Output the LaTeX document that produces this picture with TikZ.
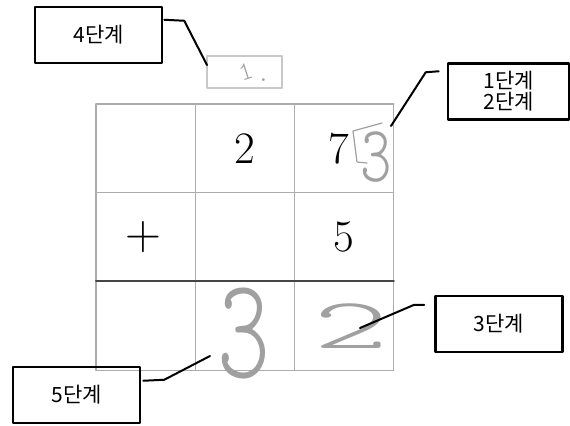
\documentclass[tikz,border=0pt]{standalone}
\usepackage{fontspec}
\newfontfamily\krfont{Noto Sans CJK KR}
\newfontfamily\handfont{lmmonolt10-regular}[Extension=.otf]
\usetikzlibrary{calc}
\definecolor{gridgray}{RGB}{172,172,172}
\definecolor{sumgray}{RGB}{70,70,70}
\definecolor{pencil}{RGB}{160,160,160}
\definecolor{carrygray}{RGB}{200,200,200}

\begin{document}
\begin{tikzpicture}[
    x=0.5pt, y=-0.5pt,
    line cap=round,
    line join=round,
    callout/.style={draw=black, line width=1.25pt, minimum width=63.5pt,
        minimum height=28pt, inner sep=0pt, align=center,
        font=\krfont\fontsize{10.5}{10.5}\selectfont},
    leader/.style={black, line width=1pt},
    gridline/.style={gridgray, line width=0.6pt},
    sumrule/.style={sumgray, line width=1pt},
    printed/.style={font=\fontsize{22.5}{27}\selectfont},
    hand/.style={pencil, inner sep=0pt},
    carrybox/.style={draw=carrygray, line width=0.6pt, minimum width=37.5pt,
        minimum height=16pt, inner sep=0pt, text=pencil,
        font=\handfont\fontsize{13}{13}\selectfont},
]

% ── Canvas (pixel coordinates, y downwards) ──────────────────────────────────
\useasboundingbox (0,0) rectangle (570,425);

% ── Adjustable parameters ───────────────────────────────────────────────────
\def\gx{96}     % left edge of the grid
\def\gy{104}    % top edge of the grid
\def\cw{99.3}   % column width
\def\rh{88.7}   % row height

% ── Grid ────────────────────────────────────────────────────────────────────
\foreach \i in {0,...,3}
    \draw[gridline] ({\gx+\i*\cw},\gy) -- ({\gx+\i*\cw},{\gy+3*\rh});
\foreach \j in {0,1,3}
    \draw[gridline] (\gx,{\gy+\j*\rh}) -- ({\gx+3*\cw},{\gy+\j*\rh});
% Sum line
\draw[sumrule] (\gx,{\gy+2*\rh}) -- ({\gx+3*\cw},{\gy+2*\rh});

% ── Printed problem ─────────────────────────────────────────────────────────
\node[printed] (tens)  at ({\gx+1.5*\cw},{\gy+0.5*\rh}) {2};
\node[printed] (ones)  at ({\gx+2.45*\cw},{\gy+0.5*\rh}) {7};
\node[printed, font=\fontsize{28}{30}\selectfont] (plus)
    at ({\gx+0.48*\cw},{\gy+1.5*\rh}) {$+$};
\node[printed] (addend) at ({\gx+2.5*\cw},{\gy+1.5*\rh}) {5};

% ── Carry box ───────────────────────────────────────────────────────────────
\node[carrybox] (carry) at (244.5,72)
    {\hspace{9pt}\rotatebox{18}{1}\hspace{1pt}.};

% ── Handwritten working ─────────────────────────────────────────────────────
% ones column, first try
\draw[pencil, line width=0.6pt] (382,123) -- (353,131) -- (357,162) -- (367,163);
\node[hand, font=\handfont\fontsize{40}{40}\selectfont] (onesum) at (376,157)
    {\scalebox{0.75}[1]{3}};
% answer digits
\node[hand, font=\handfont\fontsize{36}{36}\selectfont] (ansones) at (351,326)
    {\scalebox{2.0}[1]{2}};
\node[hand, font=\handfont\fontsize{72}{72}\selectfont] (anstens) at (244,334)
    {\scalebox{0.7}[1]{3}};

% ── Callouts ────────────────────────────────────────────────────────────────
\node[callout] (step4) at (98.5,35) {4단계};
\node[callout, minimum width=60.5pt] (step12) at (508.5,91.5) {1단계\\2단계};
\node[callout] (step3) at (499,324) {3단계};
\node[callout] (step5) at (76.5,395) {5단계};

% Leader tips
\coordinate (tip4)  at (207,65);
\coordinate (tip12) at (391,126);
\coordinate (tip3)  at (360,328);
\coordinate (tip5)  at (210,356);

% Leaders
\draw[leader] ($(step4.north east)+(1,14)$) -- ++(20,1) -- (tip4);
\draw[leader] ($(step12.north west)+(-8,9)$) -- ++(-13,1) -- (tip12);
\draw[leader] ($(step3.north west)+(-10,10)$) -- ++(-10,0) -- (tip3);
\draw[leader] ($(step5.north east)+(2,15)$) -- ++(21,-1) -- (tip5);

\end{tikzpicture}
\end{document}
